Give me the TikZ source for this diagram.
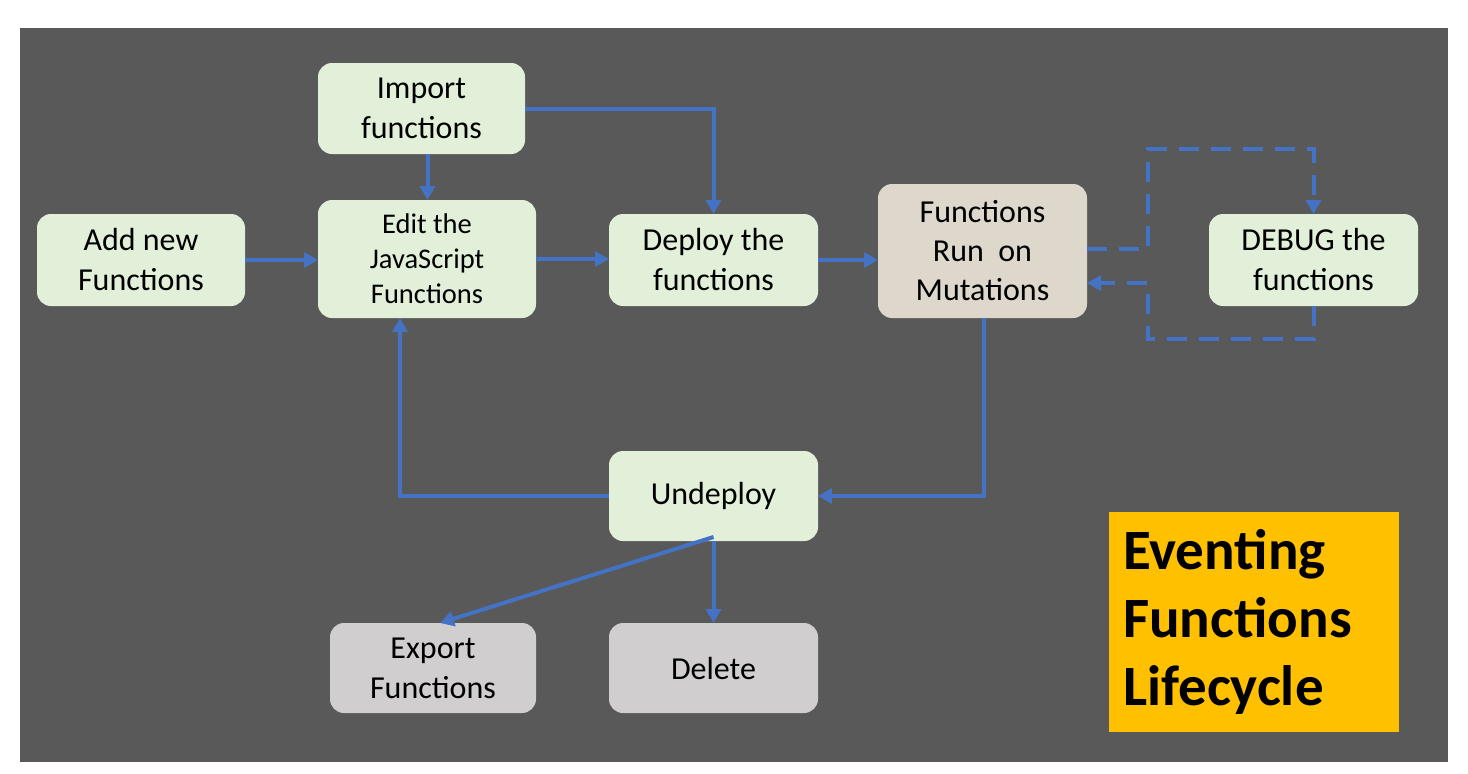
\documentclass[tikz,border=0pt]{standalone}
\usepackage{fontspec}
\setmainfont{Carlito}
\usetikzlibrary{arrows.meta,calc}
\definecolor{bgc}{HTML}{595959}
\definecolor{greenc}{HTML}{E2F0D9}
\definecolor{grayc}{HTML}{D0CECE}
\definecolor{beigec}{HTML}{DDD8CB}
\definecolor{bluec}{HTML}{4472C4}
\definecolor{orangec}{HTML}{FFC000}
\tikzset{
  box/.style={rounded corners=14pt, fill=greenc, inner sep=0pt, outer sep=0pt, align=center,
    font=\fontsize{32}{40}\selectfont, text=black},
  graybox/.style={box, fill=grayc},
  arr/.style={draw=bluec, line width=4pt, -{Triangle[length=14pt,width=15pt]}},
  darr/.style={arr, dash pattern=on 20pt off 12pt},
}
\begin{document}
\begin{tikzpicture}[x=1pt,y=-1pt]
\fill[white] (0,0) rectangle (1468,774);
\fill[bgc] (20,28) rectangle (1447.5,761.5);
\useasboundingbox (0,0) rectangle (1468,774);

\node[box, minimum width=208pt, minimum height=92pt] (add) at (141,260) {Add new\\Functions};
\node[box, minimum width=207pt, minimum height=91pt] (imp) at (421.5,108.5) {Import\\functions};
\node[box, minimum width=218pt, minimum height=118pt, font=\fontsize{28.5}{35}\selectfont] (edit) at (427,259) {Edit the\\JavaScript\\Functions};
\node[box, minimum width=209pt, minimum height=92pt] (dep) at (713.5,260) {Deploy the\\functions};
\node[box, fill=beigec, minimum width=209pt, minimum height=134pt, font=\fontsize{32}{39}\selectfont] (run) at (982.5,251) {Functions\\Run~~on\\Mutations};
\node[box, minimum width=209pt, minimum height=92pt] (dbg) at (1313.5,260) {DEBUG the\\functions};
\node[box, minimum width=209pt, minimum height=90pt] (und) at (713.5,496) {Undeploy};
\node[graybox, minimum width=206pt, minimum height=90pt] (exp) at (433,668) {Export\\Functions};
\node[graybox, minimum width=209pt, minimum height=90pt] (del) at (713.5,668) {Delete};

\node[fill=orangec, anchor=north west, minimum width=290pt, minimum height=220pt, text width=262pt,
  inner xsep=14pt, inner ysep=0pt, align=left, font=\bfseries\fontsize{57}{68}\selectfont] (title)
  at (1109,512) {Eventing\\Functions\\Lifecycle};

\draw[arr] (add.east) -- (add.east -| edit.west);
\draw[arr] ([xshift=6pt]imp.south) -- ([xshift=6pt]imp.south |- edit.north);
\draw[arr] (imp.east) -| (dep.north);
\draw[arr] (edit.east) -- (edit.east -| dep.west);
\draw[arr] (dep.east) -- (dep.east -| run.west);
\draw[arr] ([xshift=1pt]run.south) |- (und.east);
\draw[arr] (und.west) -| ([xshift=-27pt]edit.south);
\draw[arr] ([yshift=4pt]und.south) -- ([xshift=7pt]exp.north);
\draw[arr] (und.south) -- (del.north);

\coordinate (d1) at (1148,149);
\coordinate (d2) at (1148,339);
\draw[darr] ([yshift=2pt]run.east) -| (d1) -| (dbg.north);
\draw[darr] (dbg.south) |- (d2) |- ([yshift=-32pt]run.east);
\end{tikzpicture}
\end{document}
